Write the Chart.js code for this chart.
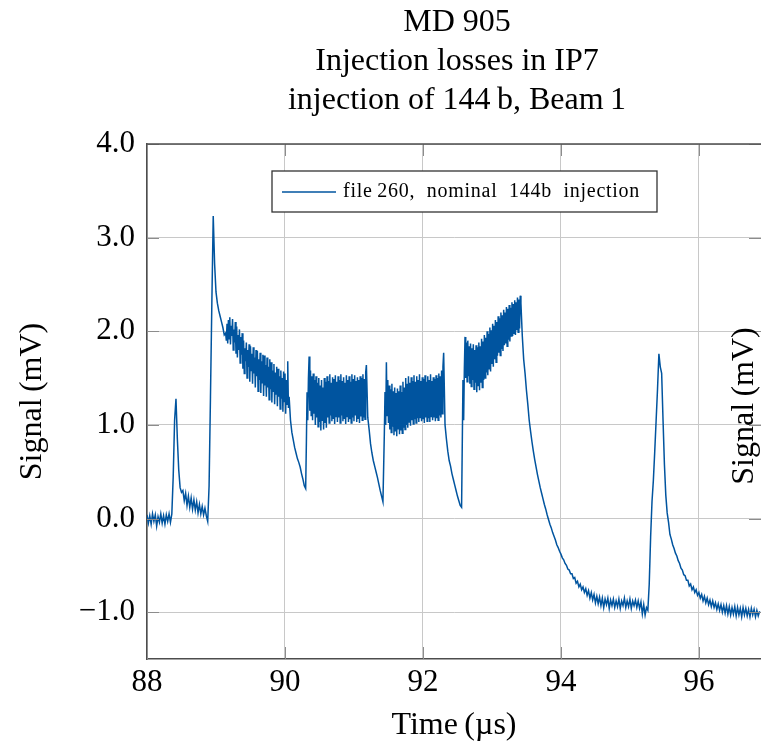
<!DOCTYPE html>
<html>
<head>
<meta charset="utf-8">
<script src="https://cdn.jsdelivr.net/npm/chart.js@4.4.1/dist/chart.umd.min.js"></script>
<style>
  html, body { margin: 0; padding: 0; background: #fff; }
</style>
</head>
<body>
<canvas id="lossChart" width="761" height="745"></canvas>
<script>
// text
const titleLines = ["MD 905", "Injection losses in IP7", "injection of 144\u2009b, Beam\u20091"];
const seriesLabel = "file\u2009260,  nominal  144b  injection";
const xTitle = "Time\u2009(\u00b5s)";
const yTitle = "Signal\u2009(mV)";

// axes
const xTicks = [88, 90, 92, 94, 96];
const yTicks = [-1, 0, 1, 2, 3, 4];

// signal in mV, region by region
// (start time and sample step of each region in us)
const regionStartUs = [88.00, 88.36, 88.90, 89.14, 90.08, 90.30, 91.20, 91.44, 92.32, 92.58, 93.44, 95.28];
const regionStepUs  = [0.02,  0.02,  0.02,  0.01,  0.02,  0.01,  0.02,  0.01,  0.02,  0.01,  0.02,  0.02];

const baseline = [0.04, -0.05, 0.03, -0.06, 0.05, -0.03, 0.04, -0.08, 0.02, -0.04, 0.05, -0.05, 0.03, -0.06, 0.04, -0.03, 0.05, -0.04];
const firstPulse = [0.05, 0.45, 1.05, 1.28, 0.85, 0.52, 0.33, 0.28, 0.30, 0.19, 0.27, 0.14, 0.24, 0.12, 0.22, 0.10, 0.20, 0.09, 0.18, 0.06, 0.15, 0.05, 0.13, 0.04, 0.11, 0.03, -0.03];
const mainPeak = [0.35, 1.30, 2.30, 3.23, 2.72, 2.42, 2.30, 2.22, 2.16, 2.10, 2.04, 1.96];
const firstTrain = [1.98, 1.90, 2.08, 1.87, 2.12, 1.92,
  2.15, 1.86, 2.06, 1.95, 2.13, 1.80, 2.02, 1.88, 2.10, 1.76,
  2.05, 1.72, 1.96, 1.80, 2.02, 1.66, 1.94, 1.75, 1.98, 1.60,
  1.90, 1.55, 1.82, 1.68, 1.88, 1.50, 1.80, 1.62, 1.86, 1.46,
  1.84, 1.58, 1.76, 1.44, 1.83, 1.55, 1.72, 1.40, 1.80, 1.52,
  1.79, 1.36, 1.70, 1.48, 1.77, 1.34, 1.68, 1.45, 1.75, 1.31,
  1.74, 1.42, 1.64, 1.30, 1.72, 1.40, 1.62, 1.27, 1.70, 1.38,
  1.67, 1.24, 1.58, 1.36, 1.65, 1.22, 1.56, 1.33, 1.62, 1.20,
  1.60, 1.30, 1.52, 1.17, 1.58, 1.28, 1.50, 1.14, 1.57, 1.25,
  1.55, 1.12, 1.48, 1.22, 1.68, 1.18, 1.30];
const firstGap = [1.05, 0.92, 0.84, 0.76, 0.70, 0.64, 0.60, 0.55, 0.48, 0.42, 0.35];
const secondTrain = [0.32, 0.80, 1.35, 1.05, 1.50, 1.73, 1.15, 1.58, 1.10, 1.52,
  1.05, 1.55, 1.12, 1.48, 1.00, 1.52, 1.08, 1.45, 0.98, 1.50,
  1.03, 1.42, 0.94, 1.48, 1.05, 1.40, 0.95, 1.50, 1.02, 1.46,
  0.97, 1.52, 1.08, 1.47, 1.02, 1.54, 1.10, 1.45, 1.04, 1.51,
  1.07, 1.49, 1.01, 1.53, 1.09, 1.46, 1.03, 1.52, 1.08, 1.48,
  1.02, 1.54, 1.10, 1.47, 1.04, 1.51, 1.07, 1.45, 1.01, 1.53,
  1.09, 1.48, 1.03, 1.52, 1.06, 1.46, 1.02, 1.54, 1.08, 1.49,
  1.04, 1.53, 1.10, 1.47, 1.03, 1.51, 1.07, 1.48, 1.02, 1.52,
  1.09, 1.50, 1.05, 1.54, 1.08, 1.49, 1.06, 1.56, 1.64];
const secondGap = [1.08, 0.95, 0.80, 0.70, 0.62, 0.56, 0.50, 0.44, 0.37, 0.30, 0.24, 0.18];
const thirdTrain = [0.90, 1.35, 1.00, 1.67, 1.10, 1.48,
  1.02, 1.42, 0.95, 1.38, 0.92, 1.44, 0.98, 1.36, 0.89, 1.40,
  0.93, 1.34, 0.88, 1.39, 0.96, 1.36, 0.90, 1.42, 0.94, 1.35,
  0.91, 1.46, 0.97, 1.40, 0.95, 1.50, 1.00, 1.44, 0.97, 1.52,
  1.03, 1.45, 0.99, 1.51, 1.05, 1.47, 1.01, 1.53, 1.06, 1.46,
  1.02, 1.52, 1.07, 1.48, 1.03, 1.54, 1.08, 1.47, 1.04, 1.51,
  1.06, 1.49, 1.02, 1.53, 1.08, 1.46, 1.04, 1.52, 1.07, 1.48,
  1.03, 1.54, 1.09, 1.47, 1.05, 1.51, 1.08, 1.49, 1.04, 1.53,
  1.07, 1.50, 1.05, 1.55, 1.10, 1.52, 1.08, 1.58, 1.12, 1.62,
  1.77];
const thirdGap = [1.00, 0.85, 0.72, 0.62, 0.56, 0.48, 0.42, 0.36, 0.30, 0.24, 0.19, 0.14, 0.12];
const fourthTrain = [1.48, 1.05,
  1.60, 1.94, 1.50, 1.88, 1.46, 1.90, 1.52, 1.84, 1.44, 1.87,
  1.41, 1.82, 1.48, 1.86, 1.38, 1.80, 1.45, 1.85, 1.35, 1.83,
  1.42, 1.88, 1.37, 1.84, 1.45, 1.92, 1.40, 1.89, 1.48, 1.96,
  1.50, 1.93, 1.56, 2.00, 1.53, 1.97, 1.60, 2.04, 1.57, 2.01,
  1.65, 2.08, 1.62, 2.06, 1.70, 2.12, 1.67, 2.10, 1.74, 2.16,
  1.77, 2.14, 1.74, 2.20, 1.81, 2.17, 1.79, 2.23, 1.85, 2.20,
  1.87, 2.26, 1.84, 2.24, 1.91, 2.28, 1.89, 2.25, 1.95, 2.31,
  1.95, 2.29, 1.98, 2.33, 1.96, 2.31, 2.01, 2.36, 1.99, 2.34,
  2.03, 2.38, 2.30];
const longDecay = [1.95, 1.70, 1.55, 1.37, 1.22, 1.05, 0.93, 0.82, 0.72, 0.63,
  0.55, 0.47, 0.40, 0.33, 0.27, 0.21, 0.15, 0.10, 0.04, -0.01,
  -0.06, -0.10, -0.15, -0.19, -0.23, -0.28, -0.31, -0.35, -0.38, -0.42,
  -0.44, -0.48, -0.50, -0.54, -0.55, -0.59, -0.59, -0.64, -0.63, -0.69,
  -0.67, -0.73, -0.70, -0.76, -0.73, -0.79, -0.75, -0.82, -0.77, -0.85,
  -0.79, -0.87, -0.81, -0.90, -0.83, -0.91, -0.84, -0.93, -0.85, -0.95,
  -0.86, -0.92, -0.85, -0.96, -0.87, -0.93, -0.86, -0.95, -0.88, -0.94,
  -0.86, -0.96, -0.88, -0.93, -0.85, -0.95, -0.88, -0.94, -0.86, -0.96,
  -0.88, -0.93, -0.87, -0.95, -0.88, -0.96, -0.89, -1.02, -0.92, -1.03,
  -0.95, -0.98];
const lastPulse = [-0.70, -0.20, 0.18, 0.41, 0.72, 1.05, 1.38, 1.76, 1.62, 1.55,
  1.05, 0.58, 0.25, 0.06, -0.04, -0.17, -0.22, -0.28, -0.32, -0.37,
  -0.40, -0.45, -0.48, -0.53, -0.55, -0.60, -0.61, -0.66, -0.66, -0.72,
  -0.70, -0.76, -0.73, -0.79, -0.76, -0.82, -0.79, -0.85, -0.81, -0.88,
  -0.83, -0.90, -0.85, -0.92, -0.87, -0.94, -0.88, -0.95, -0.90, -0.97,
  -0.91, -0.98, -0.92, -1.00, -0.93, -1.01, -0.93, -1.02, -0.94, -1.03,
  -0.95, -1.02, -0.94, -1.04, -0.95, -1.03, -0.96, -1.05, -0.95, -1.03,
  -0.96, -1.04, -0.97, -1.05, -0.96, -1.03, -0.97, -1.05, -0.98, -1.04,
  -0.99];

const regions = [baseline, firstPulse, mainPeak, firstTrain, firstGap, secondTrain, secondGap,
  thirdTrain, thirdGap, fourthTrain, longDecay, lastPulse];

const points = [];
regions.forEach((vals, r) => {
  vals.forEach((v, i) => {
    points.push({ x: +(regionStartUs[r] + i * regionStepUs[r]).toFixed(3), y: v });
  });
});

const SERIF = '"Liberation Serif", "DejaVu Serif", serif';
const lineColor = "#00549f";

// title, legend box, right-hand label, top frame and inward ticks
const decorations = {
  id: "decorations",
  afterDraw(chart) {
    const { ctx, chartArea: a, scales } = chart;
    const seg = (x1, y1, x2, y2) => { ctx.beginPath(); ctx.moveTo(x1, y1); ctx.lineTo(x2, y2); ctx.stroke(); };
    ctx.save();

    ctx.strokeStyle = "#8c8c8c";
    ctx.lineWidth = 1;
    xTicks.forEach(v => {
      const px = Math.round(scales.x.getPixelForValue(v)) + 0.5;
      seg(px, a.bottom, px, a.bottom - 12);
      seg(px, a.top, px, a.top + 12);
    });
    yTicks.forEach(v => {
      const py = Math.round(scales.y.getPixelForValue(v)) + 0.5;
      seg(a.left, py, a.left + 12, py);
      seg(a.right, py, a.right - 12, py);
    });

    ctx.strokeStyle = "#4d4d4d";
    ctx.lineWidth = 1.5;
    seg(a.left, a.top, a.right, a.top);

    ctx.fillStyle = "#000";
    ctx.textAlign = "center";
    ctx.textBaseline = "middle";
    ctx.font = "32px " + SERIF;
    const cx = (a.left + a.right) / 2 + 3;
    titleLines.forEach((t, i) => ctx.fillText(t, cx, 23 + i * 39));

    // legend
    ctx.fillStyle = "#fff";
    ctx.fillRect(272, 171, 385, 41);
    ctx.strokeStyle = "#333";
    ctx.lineWidth = 1.3;
    ctx.strokeRect(272, 171, 385, 41);
    ctx.strokeStyle = lineColor;
    ctx.lineWidth = 1.3;
    seg(282, 192, 336, 192);
    ctx.fillStyle = "#000";
    ctx.font = "20px " + SERIF;
    ctx.textAlign = "left";
    const natural = ctx.measureText(seriesLabel).width;
    ctx.letterSpacing = Math.max(0, (297 - natural) / seriesLabel.length).toFixed(2) + "px";
    ctx.fillText(seriesLabel, 343, 192);
    ctx.letterSpacing = "0px";

    // second axis label on the right
    ctx.font = "32px " + SERIF;
    ctx.textAlign = "center";
    ctx.translate(745, 406);
    ctx.rotate(-Math.PI / 2);
    ctx.fillText(yTitle, 0, 0);
    ctx.restore();
  }
};

new Chart(document.getElementById("lossChart"), {
  type: "line",
  data: {
    datasets: [{
      label: seriesLabel,
      data: points,
      borderColor: lineColor,
      borderWidth: 1.5,
      pointRadius: 0,
      tension: 0,
      fill: false
    }]
  },
  options: {
    responsive: false,
    animation: false,
    devicePixelRatio: 1,
    layout: { padding: { top: 144, right: 0, bottom: 0, left: 0 } },
    plugins: { legend: { display: false }, tooltip: { enabled: false } },
    scales: {
      x: {
        type: "linear",
        min: 88,
        max: 96.9,
        afterBuildTicks: s => { s.ticks = xTicks.map(v => ({ value: v })); },
        afterFit: s => { s.height = 86; },
        ticks: { color: "#000", font: { family: SERIF, size: 31 }, padding: 5, callback: v => String(v) },
        grid: { color: "#c8c8c8", lineWidth: 1, drawTicks: false },
        border: { color: "#4d4d4d", width: 1.5 },
        title: { display: true, text: xTitle, color: "#000", font: { family: SERIF, size: 32 }, padding: { top: 0, bottom: 0 } }
      },
      y: {
        min: -1.5,
        max: 4,
        afterBuildTicks: s => { s.ticks = yTicks.map(v => ({ value: v })); },
        afterFit: s => { s.width = 147; },
        ticks: {
          color: "#000", font: { family: SERIF, size: 31 }, padding: 12,
          callback: v => (v < 0 ? "\u2212" : "") + Math.abs(v).toFixed(1)
        },
        grid: { color: "#c8c8c8", lineWidth: 1, drawTicks: false },
        border: { color: "#4d4d4d", width: 1.5 },
        title: { display: true, text: yTitle, color: "#000", font: { family: SERIF, size: 32 }, padding: { top: 13, bottom: 0 } }
      }
    }
  },
  plugins: [decorations]
});
</script>
</body>
</html>
